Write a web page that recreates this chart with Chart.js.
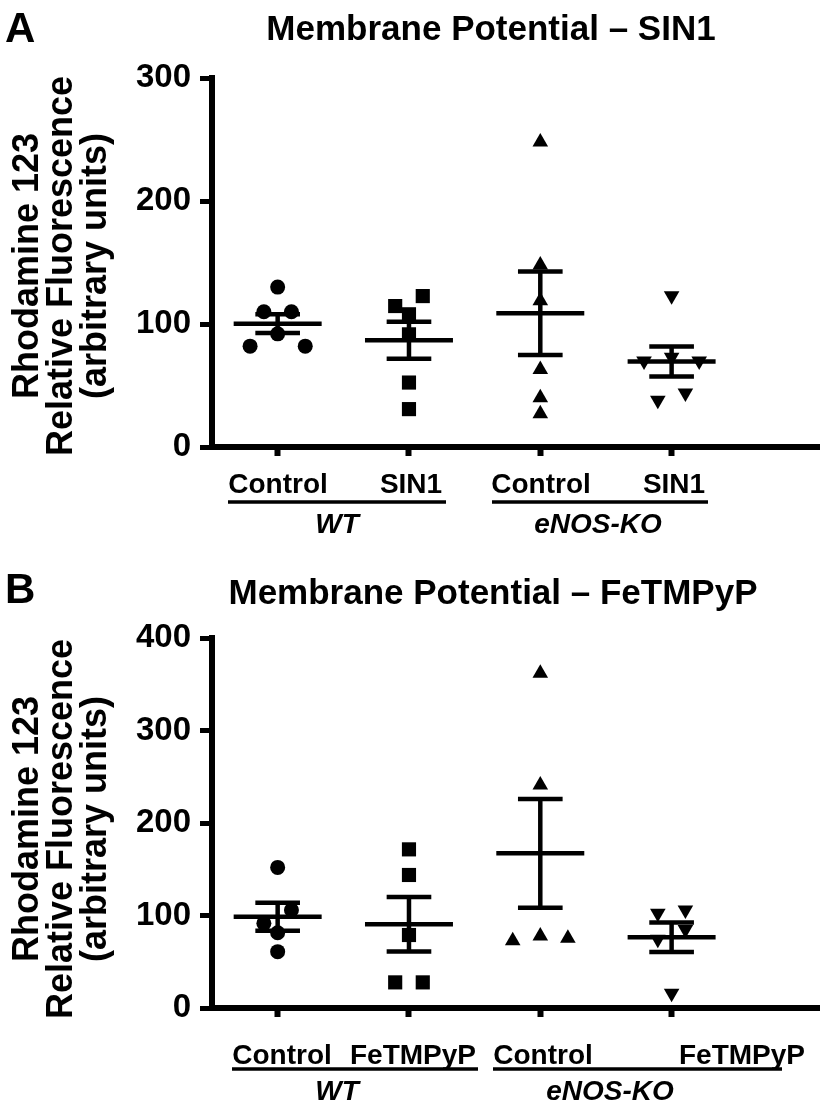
<!DOCTYPE html>
<html>
<head>
<meta charset="utf-8">
<script src="https://cdn.jsdelivr.net/npm/chart.js@4.4.0/dist/chart.umd.min.js"></script>
<style>
  body { margin: 0; background: #fff; }
  canvas { display: block; }
</style>
</head>
<body>
<canvas id="chartA" width="820" height="557"></canvas>
<canvas id="chartB" width="820" height="558"></canvas>
<script>
// ---- data ----
var groupPos = [1, 2, 3, 4];
var genotypes = ['WT', 'eNOS-KO'];
var yTitleLines = ['Rhodamine 123', 'Relative Fluorescence', '(arbitrary units)'];

// A: SIN1
var sinLabels = ['Control', 'SIN1', 'Control', 'SIN1'];
var sinWtControl = [130, 110, 110, 92, 82, 82];
var sinWtSin1 = [122.7, 114.6, 107.9, 91.6, 52.4, 30.8];
var sinKoControl = [248, 148, 119, 63, 40, 27];
var sinKoSin1 = [123, 73, 70, 70, 44, 38];
var sinMeans = [100.3, 86.8, 108.7, 69.5];
var sinSem = [7.6, 15, 34, 12.2];
var sinTicks = [0, 100, 200, 300];

// B: FeTMPyP
var fetLabels = ['Control', 'FeTMPyP', 'Control', 'FeTMPyP'];
var fetWtControl = [152, 106, 91.5, 81.4, 60.9];
var fetWtFet = [171.5, 143.8, 78.9, 27.7, 27.7];
var fetKoControl = [361.8, 241, 77.8, 75.3, 72.8];
var fetKoFet = [106, 102.3, 85, 74.2, 15.9];
var fetMeans = [98.7, 90.5, 167.2, 76.4];
var fetSem = [15.2, 29.4, 58.8, 15.9];
var fetTicks = [0, 100, 200, 300, 400];

var FONT = "'Liberation Sans', Arial, Helvetica, sans-serif";
Chart.defaults.font.family = FONT;

// simple Prism-like column scatter: close values share a row, spread around the centre
function swarm(values, center, yMax) {
  var thr = yMax * 0.04, step = 0.21;
  var sorted = values.slice().sort(function(a, b) { return b - a; });
  var rows = [], row = null;
  sorted.forEach(function(v) {
    if (!row || row[0] - v > thr) { row = [v]; rows.push(row); }
    else row.push(v);
  });
  var pts = [];
  rows.forEach(function(r) {
    var n = r.length;
    r.forEach(function(v, i) {
      var slot;
      if (n % 2) slot = i === 0 ? 0 : (i % 2 ? 1 : -1) * Math.ceil(i / 2);
      else slot = (i % 2 ? -1 : 1) * (Math.floor(i / 2) + 0.5);
      pts.push({ x: center + slot * step, y: v });
    });
  });
  return pts;
}

function line(ctx, x1, y1, x2, y2) {
  ctx.beginPath(); ctx.moveTo(x1, y1); ctx.lineTo(x2, y2); ctx.stroke();
}

// mean line + SEM bars
var meanSemPlugin = {
  id: 'meanSem',
  afterDatasetsDraw: function(chart, args, o) {
    var xs = chart.scales.x, ys = chart.scales.y, ctx = chart.ctx;
    ctx.save();
    ctx.strokeStyle = '#000';
    ctx.lineWidth = 4.5;
    o.means.forEach(function(m, i) {
      var c = groupPos[i];
      var yM = ys.getPixelForValue(m);
      var yHi = ys.getPixelForValue(m + o.sem[i]);
      var yLo = ys.getPixelForValue(m - o.sem[i]);
      var xc = xs.getPixelForValue(c);
      line(ctx, xs.getPixelForValue(c - 0.335), yM, xs.getPixelForValue(c + 0.335), yM);
      line(ctx, xc, yHi, xc, yLo);
      line(ctx, xs.getPixelForValue(c - 0.17), yHi, xs.getPixelForValue(c + 0.17), yHi);
      line(ctx, xs.getPixelForValue(c - 0.17), yLo, xs.getPixelForValue(c + 0.17), yLo);
    });
    ctx.restore();
  }
};

// panel letter, title, y title, group labels
var textPlugin = {
  id: 'panelText',
  afterDraw: function(chart, args, o) {
    var ctx = chart.ctx;
    ctx.save();
    ctx.fillStyle = '#000';
    ctx.strokeStyle = '#000';
    ctx.textBaseline = 'alphabetic';
    ctx.textAlign = 'left';
    ctx.font = 'bold 42px ' + FONT;
    ctx.fillText(o.letter, 5, o.letterY);

    ctx.textAlign = 'center';
    ctx.font = 'bold 35px ' + FONT;
    ctx.fillText(o.title, o.titleX, o.titleY);

    ctx.font = 'bold 36px ' + FONT;
    ctx.textBaseline = 'middle';
    yTitleLines.forEach(function(t, i) {
      ctx.save();
      ctx.translate(o.yTitleX[i], o.yTitleY);
      ctx.rotate(-Math.PI / 2);
      ctx.fillText(t, 0, 0);
      ctx.restore();
    });

    ctx.textBaseline = 'alphabetic';
    ctx.font = 'bold 28px ' + FONT;
    o.labels.forEach(function(t, i) {
      ctx.fillText(t, o.labelX[i], o.labelY);
    });

    ctx.lineWidth = 3.5;
    ctx.font = 'italic bold 28px ' + FONT;
    genotypes.forEach(function(g, i) {
      var u = o.underline[i];
      line(ctx, u[0], o.underlineY, u[1], o.underlineY);
      ctx.fillText(g, o.genoX[i], o.genoY);
    });
    ctx.restore();
  }
};

function makeChart(id, groups, means, sem, ticks, text, padTop, padBottom) {
  var yMax = ticks[ticks.length - 1];
  var styles = [
    { pointStyle: 'circle', pointRadius: 7.5, pointRotation: 0 },
    { pointStyle: 'rect', pointRadius: 10, pointRotation: 0 },
    { pointStyle: 'triangle', pointRadius: 9, pointRotation: 0 },
    { pointStyle: 'triangle', pointRadius: 9, pointRotation: 180 }
  ];
  var datasets = groups.map(function(vals, i) {
    return Object.assign({
      data: swarm(vals, groupPos[i], yMax),
      backgroundColor: '#000',
      borderWidth: 0,
      pointHoverRadius: styles[i].pointRadius
    }, styles[i]);
  });

  return new Chart(document.getElementById(id), {
    type: 'scatter',
    data: { datasets: datasets },
    options: {
      responsive: false,
      animation: false,
      events: [],
      layout: { autoPadding: false, padding: { top: padTop, bottom: padBottom, left: 0, right: 0 } },
      plugins: {
        legend: { display: false },
        tooltip: { enabled: false },
        meanSem: { means: means, sem: sem },
        panelText: text
      },
      scales: {
        x: {
          type: 'linear',
          min: 0.5,
          max: 5.13,
          afterBuildTicks: function(s) { s.ticks = groupPos.map(function(v) { return { value: v }; }); },
          afterFit: function(s) { s.height = 9; },
          ticks: { display: false },
          grid: { drawOnChartArea: false, drawTicks: true, tickLength: 9, tickWidth: 6, tickColor: '#000' },
          border: { display: true, width: 6, color: '#000' }
        },
        y: {
          min: 0,
          max: yMax,
          afterBuildTicks: function(s) { s.ticks = ticks.map(function(v) { return { value: v }; }); },
          afterFit: function(s) { s.width = 212; },
          ticks: { color: '#000', padding: 9, font: { size: 33, weight: 'bold' } },
          grid: { drawOnChartArea: false, drawTicks: true, tickLength: 12, tickWidth: 5, tickColor: '#000' },
          border: { display: true, width: 6, color: '#000' }
        }
      }
    },
    plugins: [meanSemPlugin, textPlugin]
  });
}

makeChart('chartA', [sinWtControl, sinWtSin1, sinKoControl, sinKoSin1], sinMeans, sinSem, sinTicks, {
  letter: 'A', letterY: 42,
  title: 'Membrane Potential \u2013 SIN1', titleX: 491, titleY: 40,
  yTitleX: [28, 62, 96], yTitleY: 266,
  labels: sinLabels, labelX: [278, 411, 541, 674], labelY: 493,
  underline: [[228, 446], [492, 708]], underlineY: 502,
  genoX: [337, 598], genoY: 533
}, 78, 101);

makeChart('chartB', [fetWtControl, fetWtFet, fetKoControl, fetKoFet], fetMeans, fetSem, fetTicks, {
  letter: 'B', letterY: 46,
  title: 'Membrane Potential \u2013 FeTMPyP', titleX: 493, titleY: 47,
  yTitleX: [28, 62, 96], yTitleY: 272,
  labels: fetLabels, labelX: [282, 413, 543, 742], labelY: 507,
  underline: [[232, 478], [493, 782]], underlineY: 512,
  genoX: [337, 610], genoY: 543
}, 81, 98);
</script>
</body>
</html>
